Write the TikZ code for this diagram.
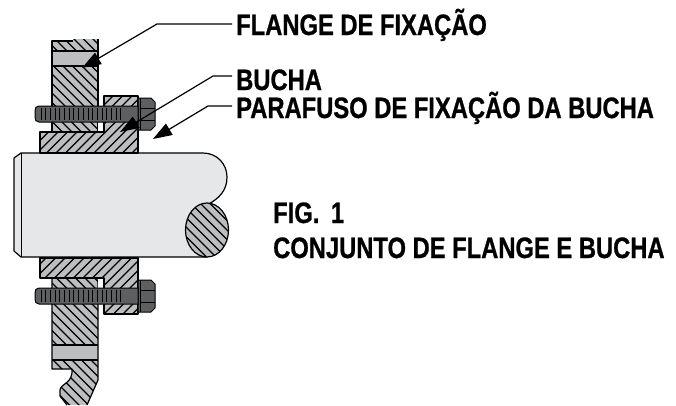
\documentclass[tikz,border=0pt]{standalone}
\usepackage{fontspec}
\setmainfont{Liberation Sans}[BoldFeatures={FakeStretch=0.805,FakeBold=0.8}]
\usetikzlibrary{arrows.meta}
\definecolor{partgray}{HTML}{BDBEC0}
\definecolor{shaftgray}{HTML}{E6E7E8}
\definecolor{boltgray}{HTML}{5E5F61}
\newcommand{\hatchback}{\foreach \k in {-440,-430.5,...,240} \draw[hatchline] (\k,0) -- (\k+420,420);}
\newcommand{\hatchfwd}{\foreach \k in {-420,-410.5,...,240} \draw[hatchline] (\k,420) -- (\k+420,0);}
\tikzset{
  hatchline/.style={black,line width=1.3pt},
  outline/.style={black,line width=1.2pt,line join=round},
  leader/.style={black,line width=1.2pt,-{Triangle[length=19pt,width=13pt]}},
  label/.style={anchor=base west,inner sep=0pt,font=\fontsize{29.5}{32}\selectfont\bfseries},
}
\begin{document}
\begin{tikzpicture}[x=1pt,y=-1pt]
\useasboundingbox (0,0) rectangle (676,405);
% shaft
\fill[shaftgray] (21,153) -- (203,153) .. controls (217,153) and (227,164) .. (227,177) .. controls (227,190) and (220,198) .. (208,206) -- (208,257) -- (21,257) -- (14,251) -- (14,158) -- cycle;
\draw[outline] (207,205) .. controls (220,198) and (227,190) .. (227,177) .. controls (227,164) and (217,153) .. (203,153) -- (21,153) -- (14,158) -- (14,251) -- (21,257) -- (207,257);
\draw[black,line width=.9pt] (21,153) -- (21,257);
% shaft section
\fill[partgray] (207,230) ellipse[x radius=21.5,y radius=27];
\begin{scope}
\clip (207,230) ellipse[x radius=21.5,y radius=27];
\hatchback
\end{scope}
\draw[outline] (207,230) ellipse[x radius=21.5,y radius=27];
% upper flange
\fill[partgray] (52,41) -- (73,41) -- (73,39) -- (98,39) -- (98,132) -- (52,132) -- cycle;
\begin{scope}
\clip (52,41) -- (73,41) -- (73,39) -- (98,39) -- (98,132) -- (52,132) -- cycle;
\hatchback
\end{scope}
\fill[partgray] (52,51) rectangle (98,66);
\draw[outline] (52,51) -- (98,51) (52,66) -- (98,66);
\draw[outline] (52,132) -- (52,41) -- (73,41) (98,39) -- (98,132);
% upper bushing
\fill[white] (98,122) rectangle (104,132);
\fill[partgray] (40,132) -- (104,132) -- (104,96) -- (138,96) -- (138,153) -- (40,153) -- cycle;
\begin{scope}
\clip (40,132) -- (104,132) -- (104,96) -- (138,96) -- (138,153) -- (40,153) -- cycle;
\hatchfwd
\end{scope}
\draw[outline] (40,132) -- (104,132) -- (104,96) -- (138,96) -- (138,153) -- (40,153) -- cycle;
% upper bolt
\fill[boltgray,draw=black,line width=1pt] (138,98) -- (151,98) -- (155,102) -- (155,126) -- (151,130) -- (138,130) -- cycle;
\draw[black,line width=.8pt] (140,98) -- (140,130) (140,108) -- (155,108) (140,120) -- (155,120);
\fill[boltgray,draw=black,line width=1pt] (39,106) -- (138,106) -- (138,122) -- (39,122) .. controls (36,122) and (35,120) .. (35,117) -- (35,111) .. controls (35,108) and (36,106) .. (39,106) -- cycle;
\foreach \x in {41,45.7,...,121} \draw[black,line width=.9pt] (\x,108) -- (\x,120);
% lower flange
\fill[partgray] (52,278) -- (98,278) -- (98,380) -- (87,405) -- (67,405) -- (60,396) -- (60,390) .. controls (61,383) and (73,384) .. (72,369) -- (52,369) -- cycle;
\begin{scope}
\clip (52,278) -- (98,278) -- (98,380) -- (87,405) -- (67,405) -- (60,396) -- (60,390) .. controls (61,383) and (73,384) .. (72,369) -- (52,369) -- cycle;
\hatchback
\end{scope}
\fill[partgray] (52,345) rectangle (98,360);
\draw[outline] (52,345) -- (98,345) (52,360) -- (98,360);
\draw[outline] (98,278) -- (98,380) -- (87,405) (67,405) -- (60,396) -- (60,390) .. controls (61,383) and (73,384) .. (72,369) -- (52,369) -- (52,278);
% lower bushing
\fill[white] (98,278) rectangle (104,288);
\fill[partgray] (40,258) -- (138,258) -- (138,314) -- (104,314) -- (104,278) -- (40,278) -- cycle;
\begin{scope}
\clip (40,258) -- (138,258) -- (138,314) -- (104,314) -- (104,278) -- (40,278) -- cycle;
\hatchfwd
\end{scope}
\draw[outline] (40,258) -- (138,258) -- (138,314) -- (104,314) -- (104,278) -- (40,278) -- cycle;
% lower bolt
\fill[boltgray,draw=black,line width=1pt] (138,280) -- (151,280) -- (155,284) -- (155,308) -- (151,312) -- (138,312) -- cycle;
\draw[black,line width=.8pt] (140,280) -- (140,312) (140,290) -- (155,290) (140,302) -- (155,302);
\fill[boltgray,draw=black,line width=1pt] (39,288) -- (138,288) -- (138,304) -- (39,304) .. controls (36,304) and (35,302) .. (35,299) -- (35,293) .. controls (35,290) and (36,288) .. (39,288) -- cycle;
\foreach \x in {41,45.7,...,121} \draw[black,line width=.9pt] (\x,290) -- (\x,302);
% labels
\node[label] (flange) at (236,35) {FLANGE DE FIXAÇÃO};
\node[label] (bucha) at (236,90) {BUCHA};
\node[label] (parafuso) at (236,118) {PARAFUSO DE FIXAÇÃO DA BUCHA};
\node[label] (fig) at (273,223) {FIG.\ \,1};
\node[label] (conjunto) at (273,258) {CONJUNTO DE FLANGE E BUCHA};
% leaders
\coordinate (flangetip) at (82,68);
\coordinate (buchatip) at (120,132);
\coordinate (parafusotip) at (153,139);
\draw[leader] (flange.west |- 0,24) ++(-4,0) -- (157,24) -- (flangetip);
\draw[leader] (bucha.west |- 0,76) ++(-4,0) -- (213,76) -- (buchatip);
\draw[leader] (parafuso.west |- 0,106) ++(-4,0) -- (208,106) -- (parafusotip);
\end{tikzpicture}
\end{document}
